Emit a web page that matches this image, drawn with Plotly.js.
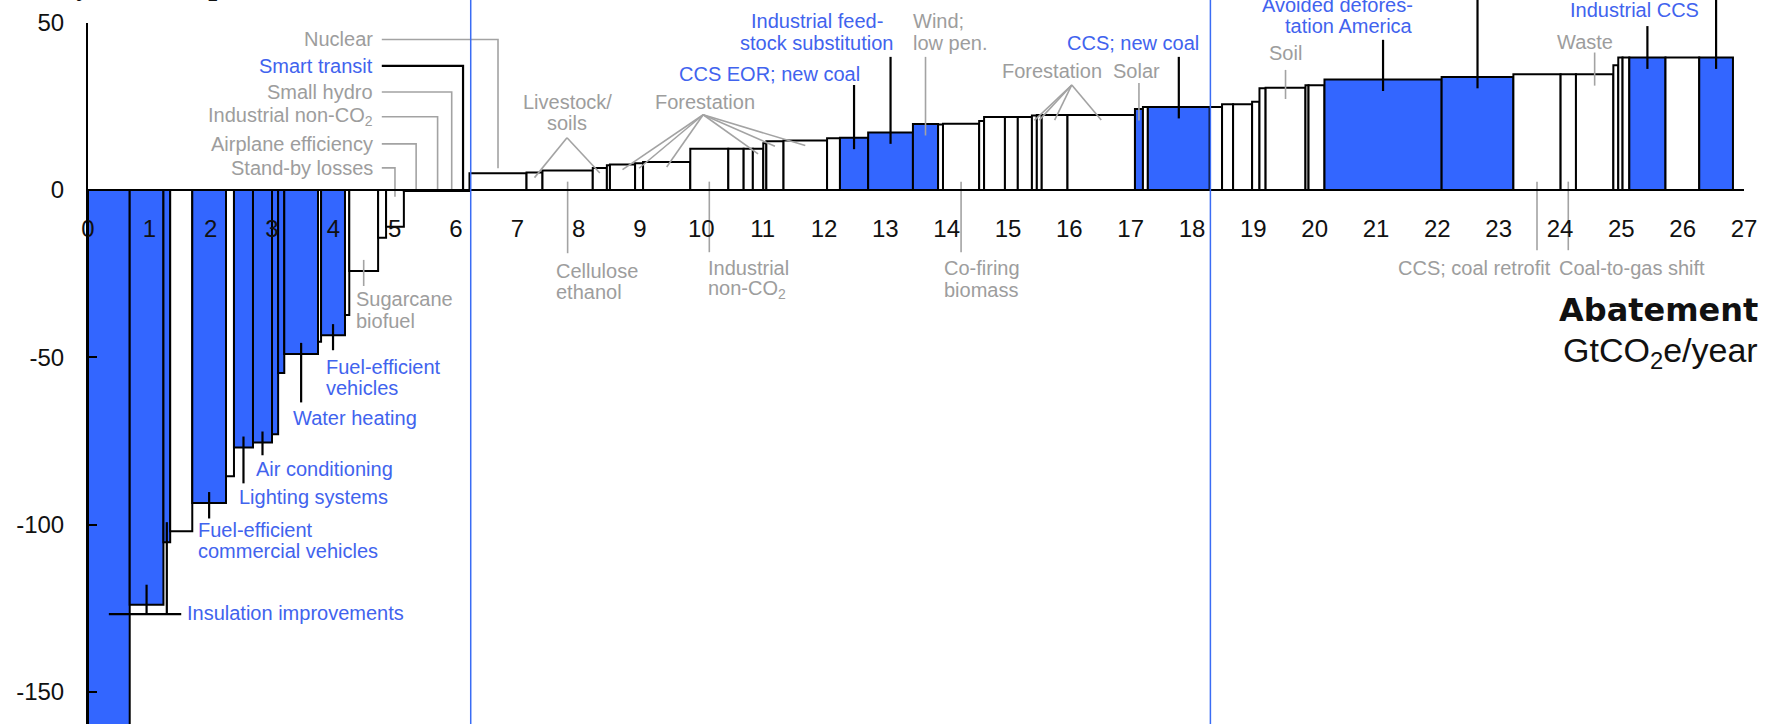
<!DOCTYPE html>
<html><head><meta charset="utf-8">
<script src="https://cdn.plot.ly/plotly-3.0.1.min.js"></script>
<style>html,body{margin:0;padding:0;background:#fff;}#chart{width:1765px;height:724px;}</style>
</head><body><div id="chart"></div>
<script>
// ---- data: abatement width (GtCO2e/year) and cost (EUR/tCO2e) of each measure, in merit order
const widths = [0.68,0.55,0.11,0.36,0.55,0.13,0.31,0.31,0.10,0.10,0.55,0.05,0.39,0.07,0.47,0.13,0.29,
  0.40,0.30,0.16,0.21,
  0.93,0.26,0.82,0.23,0.05,0.41,0.13,0.77,
  0.62,0.25,0.15,0.17,0.05,0.28,0.71,0.21,0.46,0.73,0.41,0.08,0.59,0.08,0.34,0.21,0.23,0.08,0.08,0.42,1.10,
  0.13,0.08,1.01,0.20,0.18,0.31,0.12,0.10,0.65,0.05,0.26,1.91,1.17,0.77,0.25,0.61,0.08,0.07,0.11,0.59,0.55,0.55];
const costs = [-172,-124,-105.3,-102,-93.6,-85.6,-77,-75.5,-73,-54.7,-49,-45.4,-43.4,-37.4,-24.2,-14.3,-11,
  -0.3,-0.3,-0.3,-0.3,
  5.0,5.2,5.8,6.6,7.4,7.6,8.0,8.4,
  12.3,12.3,12.3,12.3,14.0,14.6,14.8,15.5,15.6,17.2,19.7,19.6,19.8,20.6,21.8,21.8,21.8,22.3,22.4,22.4,22.4,
  24.2,24.8,24.8,24.8,25.6,25.6,26.4,30.4,30.6,31.3,31.3,33.0,33.8,34.6,34.6,34.6,37.3,39.6,39.6,39.6,39.6,39.6];
const highlighted = [1,1,1,0,1,0,1,1,1,1,1,0,1,0,0,0,0,
  0,0,0,0,
  0,0,0,0,0,0,0,0,
  0,0,0,0,0,0,0,0,1,1,1,0,0,0,0,0,0,0,0,0,0,
  1,0,1,0,0,0,0,0,0,0,0,1,1,0,0,0,0,0,0,1,0,1];
const xTickVals = [0,1,2,3,4,5,6,7,8,9,10,11,12,13,14,15,16,17,18,19,20,21,22,23,24,25,26,27];
const xTickText = xTickVals.map(String);
const yTickVals = [50,0,-50,-100,-150];
const yTickText = ['50','0','-50','-100','-150'];
const dividers = [6.24, 18.3];
const yTitleText = 'Cost by tonne CO<sub>2</sub>e';

// ---- label texts (which measure they point to)
const calloutBars  = [4,6,7,10,12,14,37,38,39,50,52,58,61,62,65,69,71,23,29,41,63,64];
const calloutTexts = [
  ['Fuel-efficient','commercial vehicles'],['Lighting systems'],['Air conditioning'],['Water heating'],
  ['Fuel-efficient','vehicles'],['Sugarcane','biofuel'],['CCS EOR; new coal'],['Industrial feed-','stock substitution'],
  ['Wind;','low pen.'],['Solar'],['CCS; new coal'],['Soil'],['Avoided defores-','tation America'],[],
  ['Waste'],['Industrial CCS'],[],['Cellulose','ethanol'],['Industrial','non-CO<sub>2</sub>'],['Co-firing','biomass'],
  ['CCS; coal retrofit'],['Coal-to-gas shift']];
const calloutBlue = [1,1,1,1,1,0,1,1,0,0,1,0,1,1,0,1,1,0,0,0,0,0];
const elbowBars  = [21,20,19,18,17,16];
const elbowTexts = ['Nuclear','Smart transit','Small hydro','Industrial non-CO<sub>2</sub>','Airplane efficiency','Stand-by losses'];
const elbowBlue  = [0,1,0,0,0,0];
const fanTexts = [['Livestock/','soils'],['Forestation'],['Forestation']];
const fanBars  = [[22,24],[26,27,28,32,34,35],[46,47,48,49]];
const insulationBars = [0,1,2];
const insulationText = 'Insulation improvements';

// ---- label placement (layout only)
const calloutX = [1.77,2.44,2.73,3.32,3.86,4.35,12.6,11.88,13.43,17.1,17.04,19.52,21.62,22.65,24.4,25.21,26.55,7.61,10.09,13.94,23.87,23.97];
const calloutY = [-104.8,-91.9,-83.5,-68.3,-56,-35.9,34.7,47.2,47.2,35.6,44,41,52.1,65,44.3,53.9,65,-27.4,-26.6,-26.6,-23.4,-23.4];
const calloutAnchor = ['left','left','left','left','left','left','right','center','left','center','center','center','right','center','center','center','center','left','left','left','right','left'];
const calloutEnd = [-98.2,-87.7,-79.3,-63.5,-47.9,-28.7,31.4,39.8,39.8,32,39.8,35.9,44.9,62,41.1,49,62,-18.9,-18.6,-18.6,-18,-18];
const elbowY = [45.0,37.1,29.3,21.9,13.8,6.6];
const elbowEnd = [6.5,0,0,0,0,-2];
const elbowLabelX = 4.67, elbowLineX = 4.79;
const fanX = [7.81,10.06,15.72], fanY = [23.1,26.3,35.6];
const fanApex = [[7.81,15.6],[10.03,22.5],[16.04,31.4]];
const insX = 1.59, insY = -126.6, insLineY = -126.8, insLineEnd = 1.52;

// ---- derived geometry
const starts = []; let acc = 0;
widths.forEach(w => { starts.push(acc); acc += w; });
const centers = starts.map((s,i) => s + widths[i]/2);
const BLUE = '#3366ff', BLUE_TXT = '#4163ee', GRAY_TXT = '#9d9d9d', GRAY_LINE = '#a3a3a3';

const blk = {x:[], y:[]}, gry = {x:[], y:[]};
function seg(t, pts){ pts.forEach(p => { t.x.push(p[0]); t.y.push(p[1]); }); t.x.push(null); t.y.push(null); }

const annotations = [];
const FONT = 'Liberation Sans, Arial, sans-serif';
function addLabel(lines, x, y, anchor, blue){
  const n = lines.length;
  lines.forEach((ln, i) => {
    annotations.push({x:x, y:y, xref:'x', yref:'y', text:ln, showarrow:false, xanchor:anchor, yanchor:'middle',
      yshift:((n-1)/2 - i)*21.5, font:{family:FONT, size:20, color: blue ? BLUE_TXT : GRAY_TXT}, borderpad:0});
  });
}

calloutBars.forEach((b, i) => {
  const c = costs[b], end = calloutEnd[i];
  const from = c < 0 ? c + 3.3 : (end < 0 ? 2.5 : c - 3.4);
  seg(calloutBlue[i] ? blk : gry, [[centers[b], from], [centers[b], end]]);
  if (calloutTexts[i].length) addLabel(calloutTexts[i], calloutX[i], calloutY[i], calloutAnchor[i], calloutBlue[i]);
});
elbowBars.forEach((b, i) => {
  seg(elbowBlue[i] ? blk : gry, [[elbowLineX, elbowY[i]], [centers[b], elbowY[i]], [centers[b], elbowEnd[i]]]);
  addLabel([elbowTexts[i]], elbowLabelX, elbowY[i], 'right', elbowBlue[i]);
});
fanBars.forEach((bars, i) => {
  bars.forEach(b => seg(gry, [fanApex[i], [centers[b], costs[b] - 1.5]]));
  addLabel(fanTexts[i], fanX[i], fanY[i], 'center', false);
});
seg(blk, [[centers[insulationBars[0]], insLineY], [insLineEnd, insLineY]]);
insulationBars.slice(1).forEach(b => seg(blk, [[centers[b], insLineY], [centers[b], costs[b] + 6]]));
addLabel([insulationText], insX, insY, 'left', true);

annotations.push({xref:'paper', yref:'paper', x:1.0097, y:0.572, xanchor:'right', yanchor:'middle', showarrow:false,
  text:'<b>Abatement</b>', font:{family:'DejaVu Sans, Verdana, sans-serif', size:32, color:'#111'}});
annotations.push({xref:'paper', yref:'paper', x:1.0097, y:0.513, xanchor:'right', yanchor:'middle', showarrow:false,
  text:'GtCO<sub>2</sub>e/year', font:{family:FONT, size:34, color:'#111'}});
// axis title, mostly above the visible top edge
annotations.push({xref:'paper', yref:'paper', x:-88/1656, y:1, xanchor:'left', yanchor:'bottom', yshift:-6, showarrow:false,
  text:yTitleText, font:{family:FONT, size:26, color:'#111'}, borderpad:0});

const k = 3.345, zeroPx = 190, H = 724;
const yb = -(H - zeroPx)/k, yt = zeroPx/k;

const traces = [
  {type:'bar', x:centers, y:costs, width:widths, marker:{color:highlighted.map(h => h ? BLUE : '#ffffff'), line:{color:'#000', width:2}},
   hoverinfo:'skip', showlegend:false},
  {type:'scatter', mode:'lines', x:gry.x, y:gry.y, line:{color:GRAY_LINE, width:1.6}, connectgaps:false, hoverinfo:'skip', showlegend:false},
  {type:'scatter', mode:'lines', x:blk.x, y:blk.y, line:{color:'#000', width:2.2}, connectgaps:false, hoverinfo:'skip', showlegend:false},
  {type:'scatter', mode:'none', x:centers, y:costs, yaxis:'y2', hoverinfo:'skip', showlegend:false}
];

const layout = {
  width:1765, height:724, margin:{l:88, r:21, t:0, b:0, pad:0},
  paper_bgcolor:'#ffffff', plot_bgcolor:'rgba(0,0,0,0)', showlegend:false,
  font:{family:FONT, color:'#111'},
  xaxis:{range:[0,27], anchor:'free', position:(0 - yb)/(yt - yb), showline:true, linecolor:'#000', linewidth:2,
    tickvals:xTickVals, ticktext:xTickText, ticks:'', ticklabelstandoff:17, tickfont:{family:FONT, size:24, color:'#111'},
    showgrid:false, zeroline:false, fixedrange:true},
  yaxis:{range:[yb, yt], domain:[0,1], visible:false, fixedrange:true},
  yaxis2:{range:[yb, 50], domain:[0, (50 - yb)/(yt - yb)], anchor:'x', showline:true, linecolor:'#000', linewidth:2,
    ticks:'inside', ticklen:9, tickwidth:2, tickcolor:'#000', tickvals:yTickVals, ticktext:yTickText,
    tickfont:{family:FONT, size:24, color:'#111'}, ticklabelstandoff:17, showgrid:false, zeroline:false, fixedrange:true},
  shapes: dividers.map(d => ({type:'line', xref:'x', yref:'paper', x0:d, x1:d, y0:0, y1:1, line:{color:'#3a6cf4', width:1.5}, layer:'above'})),
  annotations: annotations
};
Plotly.newPlot('chart', traces, layout, {staticPlot:true, displayModeBar:false});
</script></body></html>
